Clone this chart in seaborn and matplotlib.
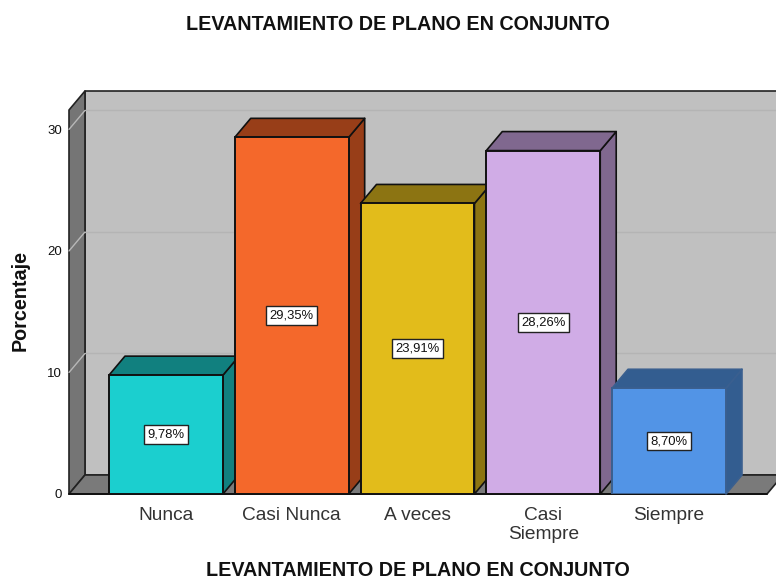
# -*- coding: utf-8 -*-
import pandas as pd
import seaborn as sns
import matplotlib
matplotlib.use("Agg")
import matplotlib.pyplot as plt
from matplotlib.patches import Polygon

categorias = ["Nunca", "Casi Nunca", "A veces", "Casi\nSiempre", "Siempre"]
porcentajes = [9.78, 29.35, 23.91, 28.26, 8.70]
etiquetas = ["9,78%", "29,35%", "23,91%", "28,26%", "8,70%"]
colores = ["#1BCFCF", "#F4682B", "#E2BC1B", "#D0ACE6", "#5294E6"]
colores_lado = ["#11807F", "#983E18", "#8C7412", "#80688F", "#335D90"]
bordes = ["#111111", "#111111", "#111111", "#111111", "#3A5F8F"]
ticks_y = [0, 10, 20, 30]

titulo = "LEVANTAMIENTO DE PLANO EN CONJUNTO"

# profundidad del efecto 3D, en unidades de datos
DX = 0.127
DY = 1.564
XMIN, XMAX = -0.771, 4.779
YMAX = 31.6

sns.set_style("white")
plt.rcParams["font.family"] = ["Liberation Sans", "DejaVu Sans"]

fig = plt.figure(figsize=(7.76, 5.8), dpi=100)
ax = fig.add_axes([69 / 776, (580 - 494) / 580, (767 - 69) / 776, (494 - 110) / 580])

df = pd.DataFrame({"categoria": categorias, "porcentaje": porcentajes})
sns.barplot(data=df, x="categoria", y="porcentaje", hue="categoria", palette=colores,
            width=0.906, saturation=1, legend=False, ax=ax)
barras = sorted(ax.patches, key=lambda p: p.get_x())
ax.set_xlim(XMIN, XMAX)
ax.set_ylim(0, YMAX)


def poligono(puntos, color, z, borde="#222222", lw=1.2):
    ax.add_patch(Polygon(puntos, closed=True, facecolor=color, edgecolor=borde,
                         linewidth=lw, zorder=z, clip_on=False, joinstyle="round"))


# paredes y piso
poligono([(XMIN + DX, DY), (XMAX + DX, DY), (XMAX + DX, YMAX + DY), (XMIN + DX, YMAX + DY)], "#C0C0C0", 1)
poligono([(XMIN, 0), (XMIN + DX, DY), (XMIN + DX, YMAX + DY), (XMIN, YMAX)], "#757575", 2)
poligono([(XMIN, 0), (XMAX, 0), (XMAX + DX, DY), (XMIN + DX, DY)], "#7A7A7A", 2)

# lineas de grilla en pared del fondo y pared izquierda
for t in ticks_y[1:]:
    ax.plot([XMIN + DX, XMAX + DX], [t + DY, t + DY], color="#B4B4B4", lw=1, zorder=3, clip_on=False)
    ax.plot([XMIN, XMIN + DX], [t, t + DY], color="#B8B8B8", lw=1, zorder=3, clip_on=False)

# barras: caras frontal, lateral y superior
for i, b in enumerate(barras):
    z = 10 + i * 3
    x0, x1, h = b.get_x(), b.get_x() + b.get_width(), b.get_height()
    b.set_edgecolor(bordes[i])
    b.set_linewidth(1.4)
    b.set_zorder(z + 2)
    poligono([(x1, 0), (x1 + DX, DY), (x1 + DX, h + DY), (x1, h)], colores_lado[i], z, bordes[i])
    poligono([(x0, h), (x1, h), (x1 + DX, h + DY), (x0 + DX, h + DY)], colores_lado[i], z + 1, bordes[i])
    ax.text((x0 + x1) / 2, h / 2, etiquetas[i], ha="center", va="center", fontsize=9.4,
            color="#111111", zorder=40,
            bbox=dict(boxstyle="square,pad=0.25", facecolor="white", edgecolor="#222222", linewidth=1))

for s in ax.spines.values():
    s.set_visible(False)
ax.plot([XMIN, XMAX], [0, 0], color="#111111", lw=1.4, zorder=9, clip_on=False)

ax.set_yticks(ticks_y)
ax.set_yticklabels([str(t) for t in ticks_y], fontsize=9.5, color="#111111")
ax.tick_params(axis="y", length=0, pad=5)
ax.tick_params(axis="x", length=0, pad=9, labelsize=13.8, labelcolor="#333333")
for lab in ax.get_xticklabels():
    lab.set_linespacing(1.2)
ax.set_xlabel("")
ax.set_ylabel("")

fig.text(398 / 776, 1 - 24.5 / 580, titulo, ha="center", va="center", fontsize=14.2, fontweight="bold", color="#111111")
fig.text(418 / 776, 1 - 570.5 / 580, titulo, ha="center", va="center", fontsize=14.2, fontweight="bold", color="#111111")
fig.text(20 / 776, 1 - 300.5 / 580, "Porcentaje", ha="center", va="center", rotation=90,
         fontsize=14.2, fontweight="bold", color="#111111")

fig.savefig("out.png", dpi=100)
plt.close()
